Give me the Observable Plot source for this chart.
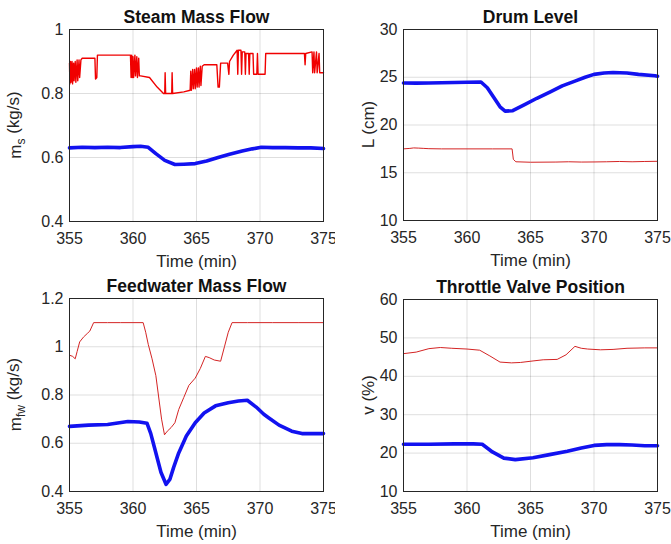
<!DOCTYPE html>
<html>
<head>
<meta charset="utf-8">
<script src="https://cdn.jsdelivr.net/npm/d3@7"></script>
<script src="https://cdn.jsdelivr.net/npm/@observablehq/plot@0.6"></script>
<style>
  html, body { margin: 0; padding: 0; background: #fff; }
  #wrap { position: relative; width: 671px; height: 544px; background: #fff; }
  #wrap > div { position: absolute; }
</style>
</head>
<body>
<div id="wrap"></div>
<script>
// ---------- data (time in min, value) ----------
const timeTicks = [355, 360, 365, 370, 375];

const steamTicks = [0.4, 0.6, 0.8, 1];
const steamRed = [
  [355.00,0.895],[355.03,0.83],[355.08,0.90],[355.12,0.835],[355.20,0.90],[355.24,0.83],
  [355.32,0.895],[355.36,0.84],[355.45,0.90],[355.50,0.835],[355.60,0.905],[355.65,0.84],
  [355.75,0.905],[355.80,0.85],[355.90,0.905],[356.00,0.91],[356.90,0.91],[357.00,0.91],
  [357.05,0.845],[357.15,0.85],[357.20,0.92],[358.50,0.92],[359.80,0.92],
  [359.85,0.85],[359.90,0.92],[359.95,0.85],[360.00,0.915],[360.05,0.85],[360.15,0.92],
  [360.20,0.855],[360.30,0.915],[360.35,0.85],[360.45,0.91],[360.50,0.855],[360.60,0.855],
  [361.30,0.85],[361.90,0.82],[362.40,0.80],[362.50,0.80],[362.53,0.865],[362.57,0.80],
  [363.05,0.80],[363.08,0.865],[363.12,0.80],[364.00,0.805],[364.50,0.81],
  [364.55,0.87],[364.60,0.81],[364.70,0.875],[364.75,0.815],[364.85,0.875],[364.90,0.815],
  [365.00,0.88],[365.05,0.82],[365.15,0.88],[365.20,0.82],[365.30,0.885],[365.35,0.825],
  [365.45,0.885],[365.60,0.89],[366.60,0.89],[366.70,0.82],[366.80,0.82],[366.90,0.895],
  [367.45,0.895],[367.55,0.86],[367.60,0.90],[367.90,0.92],[368.20,0.935],[368.25,0.86],
  [368.30,0.935],[368.50,0.935],[368.55,0.86],[368.60,0.93],[368.80,0.93],[368.85,0.86],
  [368.90,0.925],[369.10,0.925],[369.15,0.86],[369.20,0.925],[369.45,0.925],[369.50,0.86],
  [369.75,0.86],[369.80,0.925],[369.85,0.86],[370.40,0.86],[370.45,0.925],[373.50,0.925],
  [373.55,0.89],[373.60,0.925],[374.10,0.93],[374.15,0.865],[374.25,0.93],[374.30,0.865],
  [374.45,0.93],[374.50,0.865],[374.65,0.925],[374.70,0.865],[375.00,0.865]
];
const steamBlue = [
  [355.0,0.630],[356.0,0.632],[357.0,0.631],[358.0,0.632],[359.0,0.631],[360.0,0.634],
  [360.6,0.635],[361.2,0.632],[361.8,0.612],[362.5,0.591],[363.3,0.578],[364.0,0.579],
  [364.9,0.581],[365.8,0.589],[366.7,0.600],[367.6,0.610],[368.6,0.620],[369.4,0.627],
  [370.1,0.632],[371.0,0.631],[372.0,0.631],[373.0,0.630],[374.0,0.630],[375.0,0.628]
];

const drumTicks = [10, 15, 20, 25, 30];
const drumRed = [
  [355.0,17.50],[355.5,17.55],[355.8,17.60],[356.2,17.58],[356.6,17.55],[357.0,17.52],
  [358.0,17.50],[360.0,17.50],[362.0,17.50],[363.55,17.50],[363.65,16.40],[363.85,16.15],
  [365.0,16.10],[367.0,16.12],[368.0,16.15],[369.0,16.12],[370.0,16.13],[371.0,16.15],
  [372.0,16.18],[373.0,16.15],[374.0,16.18],[375.0,16.20]
];
const drumBlue = [
  [355.0,24.40],[356.0,24.38],[357.0,24.40],[358.0,24.42],[359.0,24.45],[360.0,24.48],
  [361.1,24.50],[361.6,23.90],[362.1,22.90],[362.6,21.90],[363.0,21.45],[363.6,21.50],
  [364.5,22.10],[365.5,22.80],[366.6,23.50],[367.5,24.10],[368.5,24.60],[369.3,25.00],
  [370.0,25.30],[370.8,25.45],[371.5,25.50],[372.6,25.45],[373.5,25.30],[374.8,25.15],
  [375.0,25.10]
];

const fwTicks = [0.4, 0.6, 0.8, 1, 1.2];
const fwRed = [
  [355.00,0.965],[355.25,0.960],[355.45,0.950],[355.60,0.980],[355.80,1.020],[356.10,1.040],
  [356.40,1.055],[356.60,1.065],[356.90,1.100],[358.00,1.100],[359.00,1.100],[360.00,1.100],
  [360.80,1.100],[361.00,1.060],[361.20,1.010],[361.50,0.950],[361.80,0.880],[362.00,0.800],
  [362.25,0.700],[362.48,0.635],[362.70,0.650],[363.00,0.665],[363.30,0.685],[363.60,0.740],
  [364.00,0.790],[364.40,0.840],[364.90,0.870],[365.30,0.910],[365.70,0.960],[366.00,0.955],
  [366.40,0.945],[366.90,0.940],[367.20,1.000],[367.50,1.060],[367.80,1.100],[369.00,1.100],
  [371.00,1.100],[373.00,1.100],[375.00,1.100]
];
const fwBlue = [
  [355.0,0.670],[356.5,0.675],[358.0,0.678],[359.6,0.690],[360.5,0.688],[361.1,0.683],
  [361.4,0.640],[361.7,0.580],[361.9,0.540],[362.2,0.480],[362.6,0.430],[362.9,0.450],
  [363.2,0.500],[363.6,0.560],[364.2,0.630],[364.9,0.685],[365.6,0.725],[366.5,0.755],
  [367.5,0.768],[368.3,0.775],[369.0,0.778],[369.7,0.750],[370.3,0.720],[370.7,0.705],
  [371.5,0.675],[372.5,0.650],[373.3,0.640],[374.2,0.640],[375.0,0.640]
];

const tvTicks = [10, 20, 30, 40, 50, 60];
const tvRed = [
  [355.0,45.9],[356.0,46.3],[357.0,47.2],[357.9,47.5],[358.8,47.3],[360.0,47.1],
  [361.0,46.8],[361.8,45.3],[362.6,43.7],[363.5,43.5],[364.2,43.6],[365.2,44.0],
  [366.0,44.3],[367.1,44.4],[367.8,45.6],[368.5,47.8],[369.0,47.3],[369.5,47.1],
  [370.5,46.9],[371.5,47.0],[372.6,47.3],[374.0,47.4],[375.0,47.4]
];
const tvBlue = [
  [355.0,22.3],[357.0,22.3],[359.0,22.4],[360.5,22.4],[361.2,22.3],[362.0,20.3],
  [362.9,18.7],[363.8,18.3],[365.2,18.8],[366.5,19.6],[367.9,20.5],[369.0,21.3],
  [370.0,22.0],[371.0,22.2],[372.0,22.2],[373.0,22.1],[374.0,21.9],[375.0,21.9]
];

// ---------- panels ----------
const FONT = "'Liberation Sans', Arial, Helvetica, sans-serif";
const INK = "#262626";
const BLUE = "#1212f0";

const panels = [
  {title: "Steam Mass Flow", ymain: "m", ysub: "s", yrest: " (kg/s)", domain: [0.4, 1], ticks: steamTicks,
   red: steamRed, blue: steamBlue, redColor: "#f00000", redWidth: 1.4,
   left: 0, top: 0, width: 335, ml: 69, mr: 12, mt: 29, mb: 51, labelX: 15},
  {title: "Drum Level", ymain: "L (cm)", ysub: "", yrest: "", domain: [10, 30], ticks: drumTicks,
   red: drumRed, blue: drumBlue, redColor: "#d42424", redWidth: 1,
   left: 335, top: 0, width: 336, ml: 68, mr: 14, mt: 29, mb: 52, labelX: 33},
  {title: "Feedwater Mass Flow", ymain: "m", ysub: "fw", yrest: " (kg/s)", domain: [0.4, 1.2], ticks: fwTicks,
   red: fwRed, blue: fwBlue, redColor: "#d42424", redWidth: 1,
   left: 0, top: 272, width: 335, ml: 69, mr: 12, mt: 26, mb: 53, labelX: 15},
  {title: "Throttle Valve Position", ymain: "v (%)", ysub: "", yrest: "", domain: [10, 60], ticks: tvTicks,
   red: tvRed, blue: tvBlue, redColor: "#d42424", redWidth: 1,
   left: 335, top: 272, width: 336, ml: 68, mr: 14, mt: 27, mb: 53, labelX: 33}
];

const wrap = document.getElementById("wrap");
for (const p of panels) {
  const height = 272;
  const svg = Plot.plot({
    width: p.width, height,
    marginLeft: p.ml, marginRight: p.mr, marginTop: p.mt, marginBottom: p.mb,
    style: {fontFamily: FONT, fontSize: "16px", color: INK, background: "white", overflow: "visible"},
    x: {domain: [355, 375], ticks: timeTicks, tickSize: 0, tickPadding: 11, label: null, tickFormat: d => String(d)},
    y: {domain: p.domain, ticks: p.ticks, tickSize: 0, tickPadding: 6, label: null, tickFormat: d => String(d)},
    marks: [
      Plot.gridX(timeTicks, {stroke: "#000", strokeOpacity: 0.13}),
      Plot.gridY(p.ticks, {stroke: "#000", strokeOpacity: 0.13}),
      Plot.line(p.red, {x: d => d[0], y: d => d[1], stroke: p.redColor, strokeWidth: p.redWidth}),
      Plot.line(p.blue, {x: d => d[0], y: d => d[1], stroke: BLUE, strokeWidth: 3.6}),
      Plot.frame({stroke: INK, strokeWidth: 1}),
      Plot.text([p.title], {frameAnchor: "top", lineAnchor: "middle", dy: -12.5, fontSize: 17.5, fontWeight: "bold", fill: "#111"}),
      Plot.text(["Time (min)"], {frameAnchor: "bottom", lineAnchor: "middle", dy: 40, fontSize: 17, fill: INK})
    ]
  });
  // y label with optional subscript
  const cy = p.mt + (height - p.mt - p.mb) / 2;
  const t = d3.select(svg).append("text")
    .attr("transform", `translate(${p.labelX},${cy}) rotate(-90)`)
    .attr("text-anchor", "middle")
    .attr("dy", "0.35em")
    .attr("fill", INK)
    .style("font-family", FONT)
    .style("font-size", "17px");
  t.append("tspan").text(p.ymain);
  if (p.ysub) {
    t.append("tspan").attr("dy", "0.35em").style("font-size", "12px").text(p.ysub);
    t.append("tspan").attr("dy", "-0.35em").text(p.yrest);
  }
  const holder = document.createElement("div");
  holder.style.left = p.left + "px";
  holder.style.top = p.top + "px";
  holder.appendChild(svg);
  wrap.appendChild(holder);
}
</script>
</body>
</html>
